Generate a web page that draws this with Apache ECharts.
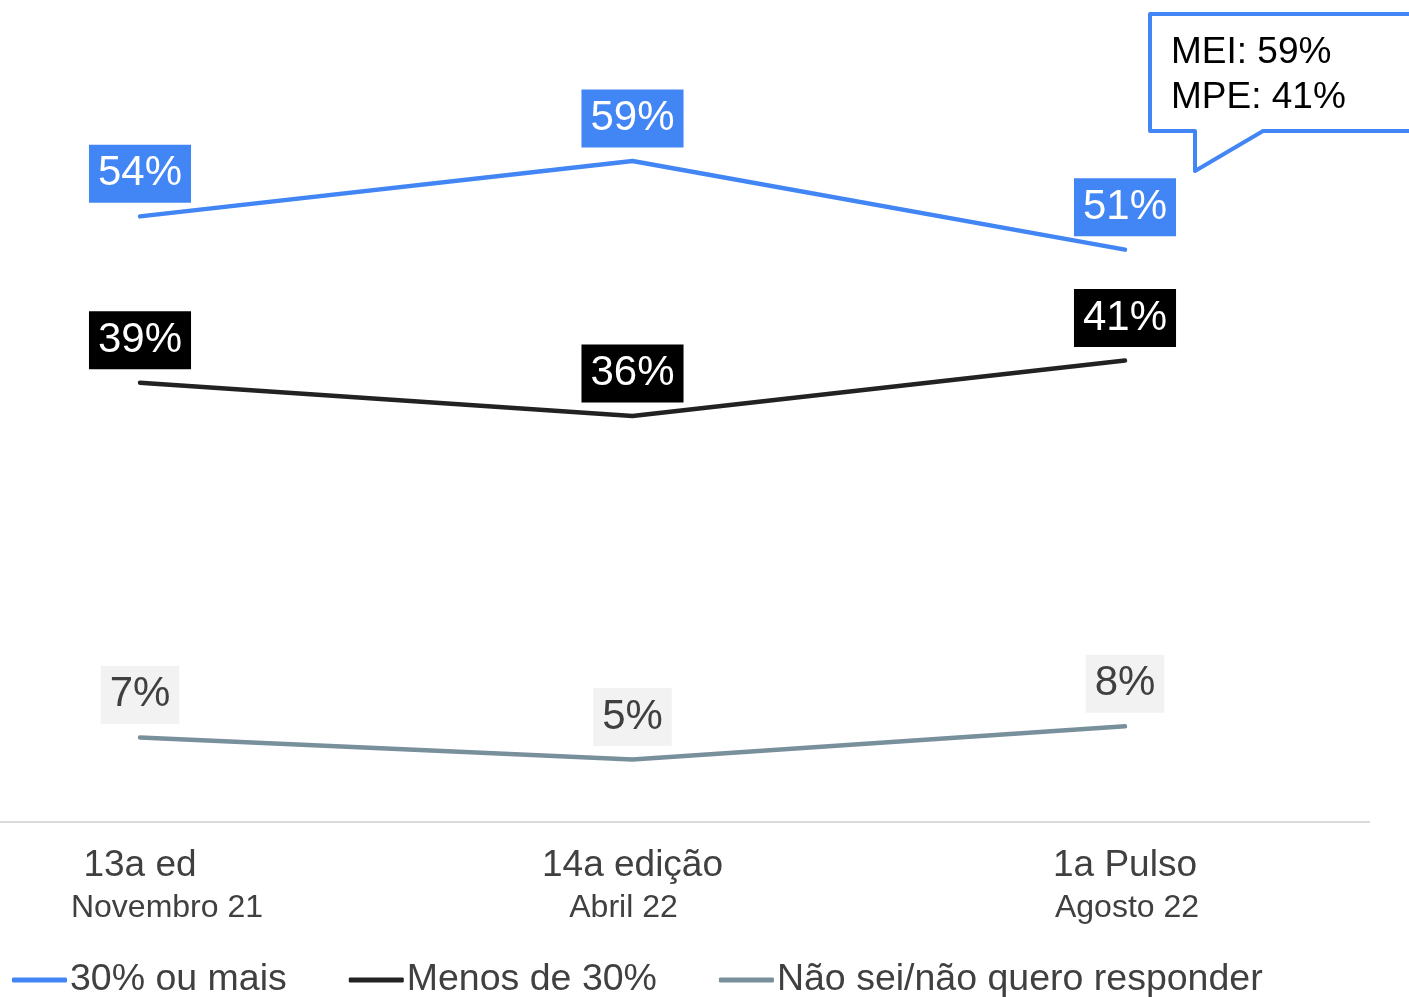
<!DOCTYPE html>
<html>
<head>
<meta charset="utf-8">
<script src="https://cdn.jsdelivr.net/npm/echarts@6/dist/echarts.min.js"></script>
<style>
  html, body { margin: 0; padding: 0; background: #fff; }
  #main { width: 1409px; height: 997px; }
</style>
</head>
<body>
<div id="main"></div>
<script>
// categorias (edição + mês)
var editions = ['13a ed', '14a edição', '1a Pulso'];
var months = ['Novembro 21', 'Abril 22', 'Agosto 22'];

// séries
var seriesNames = ['30% ou mais', 'Menos de 30%', 'Não sei/não quero responder'];
var maisDe30 = [54, 59, 51];
var menosDe30 = [39, 36, 41];
var naoSei = [7, 5, 8];

// texto do balão
var calloutLines = ['MEI: 59%', 'MPE: 41%'];

var FONT = '"Liberation Sans", Arial, sans-serif';
var BLUE = '#4285f4';
var BLACK = '#222222';
var GRAY = '#78909c';

var myChart = echarts.init(document.getElementById('main'));

function lineSeries(name, data, color, labelBg, labelColor) {
    return {
        name: name,
        type: 'line',
        data: data,
        symbol: 'circle',
        symbolSize: 1,
        itemStyle: { color: color },
        lineStyle: { color: color, width: 4.5, cap: 'round', join: 'round' },
        label: {
            show: true,
            position: 'top',
            distance: 13,
            formatter: '{c}%',
            fontFamily: FONT,
            fontSize: 42,
            lineHeight: 48,
            color: labelColor,
            backgroundColor: labelBg,
            padding: [5, 9, 5, 9]
        },
        emphasis: { disabled: true }
    };
}

option = {
    backgroundColor: '#ffffff',
    animation: false,
    textStyle: { fontFamily: FONT },
    grid: {
        left: 140,
        right: 284,
        top: 39,
        bottom: 182,
        containLabel: false
    },
    legend: {
        left: 7,
        top: 956,
        icon: 'roundRect',
        itemWidth: 55,
        itemHeight: 5,
        itemGap: 62,
        textStyle: {
            fontFamily: FONT,
            fontSize: 37.5,
            color: '#404040',
            padding: [0, 0, 0, -2]
        },
        data: seriesNames
    },
    xAxis: {
        type: 'category',
        boundaryGap: false,
        data: editions,
        axisLine: { show: false },
        axisTick: { show: false },
        splitLine: { show: false },
        axisLabel: {
            margin: 30,
            interval: 0,
            formatter: function (value, index) {
                return '{a|' + value + '}\n{b' + index + '|' + months[index] + '}';
            },
            rich: {
                a: { fontFamily: FONT, fontSize: 37, lineHeight: 42, color: '#404040' },
                b0: { fontFamily: FONT, fontSize: 32, lineHeight: 42, color: '#404040', padding: [0, 0, 0, 54] },
                b1: { fontFamily: FONT, fontSize: 32, lineHeight: 42, color: '#404040', padding: [0, 18, 0, 0] },
                b2: { fontFamily: FONT, fontSize: 32, lineHeight: 42, color: '#404040', padding: [0, 0, 0, 4] }
            }
        }
    },
    yAxis: {
        type: 'value',
        min: 0,
        max: 70,
        show: false,
        splitLine: { show: false }
    },
    graphic: [
        {
            type: 'line',
            shape: { x1: 0, y1: 822, x2: 1370, y2: 822 },
            style: { stroke: '#d9d9d9', lineWidth: 2 },
            silent: true
        },
        {
            type: 'polygon',
            shape: {
                points: [[1150, 14], [1430, 14], [1430, 131], [1263, 131], [1195, 171], [1195, 131], [1150, 131]]
            },
            style: { fill: '#ffffff', stroke: BLUE, lineWidth: 4, lineJoin: 'round' },
            silent: true
        },
        {
            type: 'text',
            x: 1171,
            y: 30,
            style: {
                text: calloutLines.join('\n'),
                font: '37px ' + FONT,
                lineHeight: 45,
                fill: '#000000',
                verticalAlign: 'top'
            },
            silent: true
        }
    ],
    series: [
        lineSeries(seriesNames[0], maisDe30, BLUE, BLUE, '#ffffff'),
        lineSeries(seriesNames[1], menosDe30, BLACK, '#000000', '#ffffff'),
        lineSeries(seriesNames[2], naoSei, GRAY, '#f2f2f2', '#404040')
    ]
};

myChart.setOption(option);
</script>
</body>
</html>
